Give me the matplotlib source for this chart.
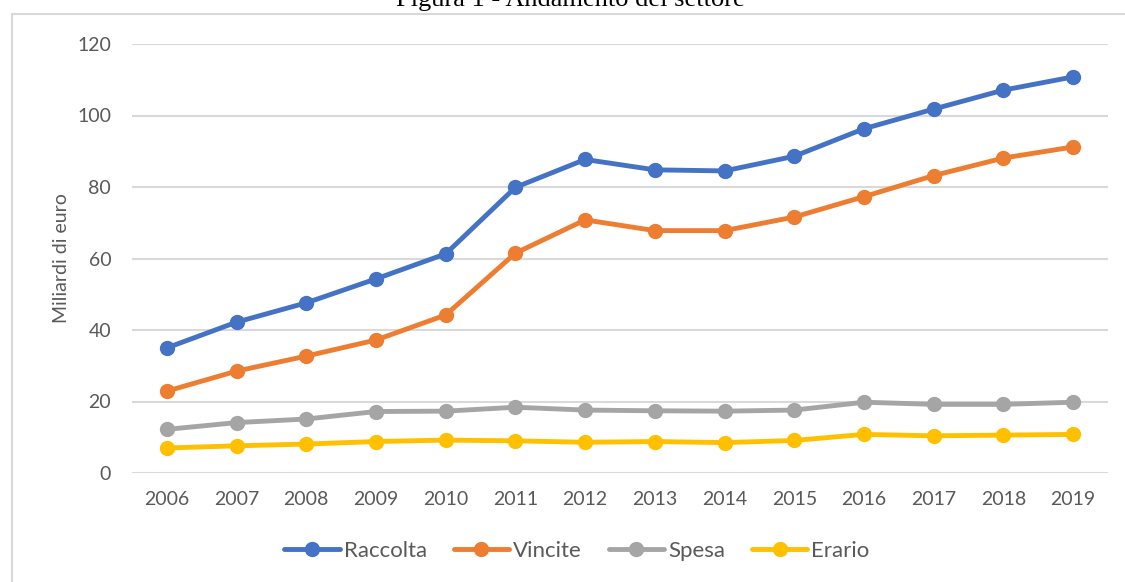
import matplotlib
matplotlib.use('Agg')
from matplotlib import pyplot as plt
from matplotlib.patches import Rectangle

# values, miliardi di euro
years = ['2006', '2007', '2008', '2009', '2010', '2011', '2012',
         '2013', '2014', '2015', '2016', '2017', '2018', '2019']
raccolta = [35.0, 42.2, 47.6, 54.3, 61.3, 79.9, 87.7, 84.8, 84.5, 88.6, 96.3, 101.8, 107.1, 110.8]
vincite = [22.9, 28.5, 32.7, 37.2, 44.2, 61.5, 70.8, 67.8, 67.8, 71.6, 77.3, 83.2, 88.1, 91.2]
spesa = [12.2, 14.1, 15.1, 17.2, 17.3, 18.4, 17.6, 17.4, 17.3, 17.6, 19.8, 19.2, 19.2, 19.8]
erario = [7.0, 7.6, 8.1, 8.8, 9.2, 9.0, 8.6, 8.8, 8.5, 9.1, 10.8, 10.4, 10.6, 10.8]

series = [('Raccolta', raccolta, '#4472C4'),
          ('Vincite', vincite, '#ED7D31'),
          ('Spesa', spesa, '#A5A5A5'),
          ('Erario', erario, '#FFC000')]

plt.rcParams['font.family'] = ['Lato', 'DejaVu Sans']

fig = plt.figure(figsize=(11.25, 5.82), dpi=100)

# chart frame (only left/top edges visible in the crop)
fig.patches.append(Rectangle((12 / 1125, -0.1), 1.2, 1 - 14 / 582 + 0.1,
                             transform=fig.transFigure, fill=False,
                             edgecolor='#D9D9D9', linewidth=1.5))

# title is cut off at the top edge in the reference as well
fig.text(570 / 1125, 1 - 6 / 582, 'Figura 1 - Andamento del settore', ha='center', va='baseline',
         family='Liberation Serif', fontsize=19, color='black')

ax = fig.add_axes([132 / 1125, 1 - 473 / 582, (1108 - 132) / 1125, (473 - 44) / 582])

x = range(len(years))
for name, vals, col in series:
    ax.plot(x, vals, color=col, linewidth=3.5, marker='o', markersize=10,
            label=name, solid_capstyle='round', zorder=3)

ax.set_xlim(-0.5, len(years) - 0.5)
ax.set_ylim(0, 120)
ax.set_yticks(range(0, 121, 20))
ax.set_xticks(list(x))
ax.set_xticklabels(years)
ax.grid(axis='y', color='#D9D9D9', linewidth=1.5)
ax.set_axisbelow(True)
for s in ax.spines.values():
    s.set_visible(False)
ax.tick_params(length=0, labelsize=14, labelcolor='#595959')
ax.tick_params(axis='x', pad=13)
ax.tick_params(axis='y', pad=15)
ax.set_ylabel('Miliardi di euro', fontsize=14, color='#595959', labelpad=5)

fig.legend(loc='center', bbox_to_anchor=(577 / 1125, 1 - 551 / 582), ncol=4,
           frameon=False, fontsize=16, handlelength=2.5, handletextpad=0.18,
           columnspacing=1.2, labelcolor='#595959')

fig.savefig('out.png', dpi=100)
